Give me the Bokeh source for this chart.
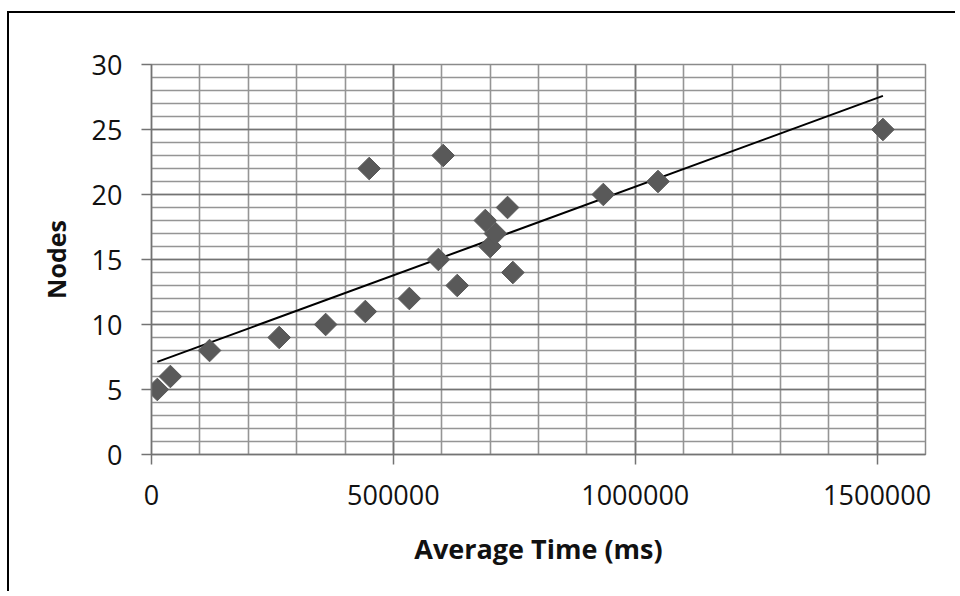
import numpy as np
from bokeh.plotting import figure
from bokeh.models import Range1d, FixedTicker, BasicTickFormatter
from bokeh.embed import file_html
from bokeh.resources import INLINE

# ---- data ----
avg_time_ms = [12000, 39000, 120000, 264000, 360000, 442000, 450000, 533000,
               593000, 603000, 632000, 690000, 700000, 711000, 736000, 747000,
               934000, 1047000, 1512000]
nodes = [5, 6, 8, 9, 10, 11, 22, 12, 15, 23, 13, 18, 16, 17, 19, 14, 20, 21, 25]

x_major_ticks = [0, 500000, 1000000, 1500000]
x_minor_ticks = list(range(0, 1600001, 100000))
y_major_ticks = [0, 5, 10, 15, 20, 25, 30]
y_minor_ticks = list(range(0, 31, 1))
x_label = "Average Time (ms)"
y_label = "Nodes"

FONT = "Open Sans"

p = figure(width=948, height=580, output_backend="svg", toolbar_location=None,
           x_range=Range1d(0, 1600000), y_range=Range1d(0, 30),
           min_border_left=142, min_border_right=32,
           min_border_top=51, min_border_bottom=139)
p.margin = (11, 0, 0, 7)
p.styles = {"border-left": "2px solid black", "border-top": "2px solid black"}
p.background_fill_color = "white"
p.border_fill_color = "white"
p.outline_line_color = "#8a8a8a"
p.outline_line_width = 1.5

# axes
p.xaxis.ticker = FixedTicker(ticks=x_major_ticks, minor_ticks=x_minor_ticks)
p.yaxis.ticker = FixedTicker(ticks=y_major_ticks, minor_ticks=y_minor_ticks)
p.xaxis.formatter = BasicTickFormatter(use_scientific=False)
for ax in (p.xaxis, p.yaxis):
    ax.axis_line_color = "#737373"
    ax.axis_line_width = 1.5
    ax.major_tick_line_color = "#737373"
    ax.major_tick_line_width = 1.5
    ax.major_tick_out = 10
    ax.major_tick_in = 0
    ax.minor_tick_line_color = None
    ax.major_label_text_font = FONT
    ax.major_label_text_font_size = "27px"
    ax.major_label_text_color = "#111111"
    ax.axis_label_text_font = FONT
    ax.axis_label_text_font_style = "bold"
    ax.axis_label_text_font_size = "27px"
    ax.axis_label_text_color = "#111111"
p.xaxis.axis_label = x_label
p.yaxis.axis_label = y_label
p.yaxis.major_label_standoff = 19
p.xaxis.major_label_standoff = 20
p.xaxis.axis_label_standoff = 22
p.yaxis.axis_label_standoff = 16
p.yaxis.axis_label_text_font_size = "25px"

# grids
for g in (p.xgrid, p.ygrid):
    g.grid_line_color = "#737373"
    g.grid_line_width = 1.6
    g.minor_grid_line_color = "#959595"
    g.minor_grid_line_width = 1.6

# linear trend line computed from the data
slope, intercept = np.polyfit(avg_time_ms, nodes, 1)
x_fit = [min(avg_time_ms), max(avg_time_ms)]
y_fit = [slope * x + intercept for x in x_fit]
p.line(x_fit, y_fit, line_color="black", line_width=2)

# diamonds
p.scatter(avg_time_ms, nodes, marker="square", angle=np.pi / 4, size=16,
          fill_color="#595959", line_color="#595959")

open("out.html", "w").write(file_html(p, INLINE))
